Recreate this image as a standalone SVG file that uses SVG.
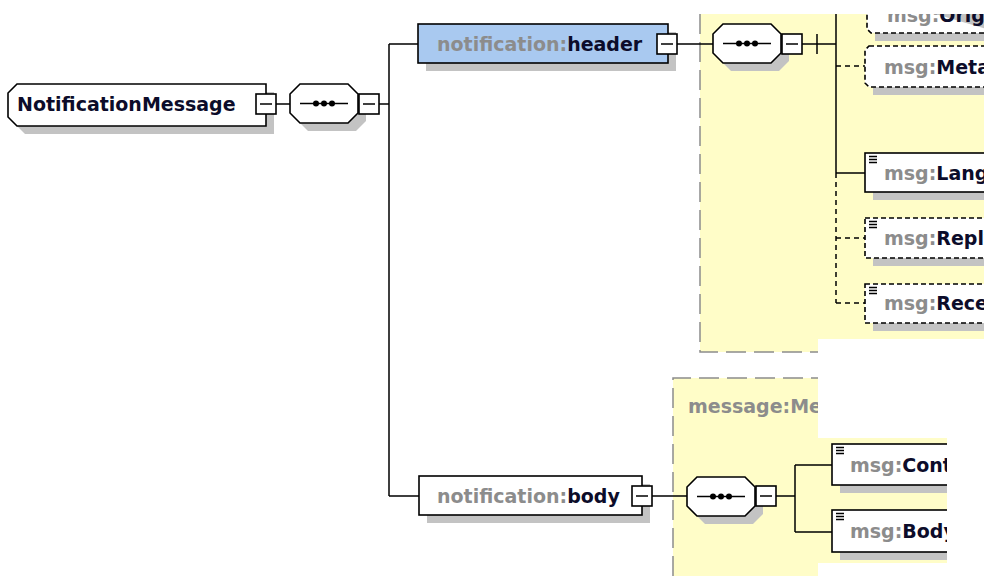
<svg xmlns="http://www.w3.org/2000/svg" xmlns:xlink="http://www.w3.org/1999/xlink" width="984" height="576" viewBox="0 0 984 576">
<defs>
<style>
.bg{fill:#fffdc8}
.frame{fill:none;stroke:#8c8c8c;stroke-width:1.5;stroke-dasharray:20 8}
.sh{fill:#c3c3c3}
.box{fill:#fff;stroke:#000;stroke-width:1.6}
.opt{fill:#fff;stroke:#000;stroke-width:1.6;stroke-dasharray:5 3}
.hdr{fill:#a9c9f0;stroke:#000;stroke-width:1.6}
.ln{fill:none;stroke:#000;stroke-width:1.5}
.dl{fill:none;stroke:#000;stroke-width:1.5;stroke-dasharray:5 4}
.t{font-family:"DejaVu Sans",Verdana,sans-serif;font-weight:bold;font-size:19px}
.p{fill:#8c8c8c}
.n{fill:#0c0c2a}
.ic{fill:none;stroke:#000;stroke-width:1.3}
</style>
<g id="mb"><rect x="0" y="0" width="20" height="20" class="box"/><path d="M4 10H16" class="ln"/></g>
<g id="seq"><polygon points="18,8 66,8 76,18 76,37 66,47 18,47 8,37 8,18" class="sh"/><polygon points="10,0 58,0 68,10 68,29 58,39 10,39 0,29 0,10" class="box"/><path d="M10 19.5H58" class="ln"/><circle cx="26" cy="19.5" r="3"/><circle cx="34" cy="19.5" r="3"/><circle cx="42" cy="19.5" r="3"/></g>
<g id="icon"><path d="M0 0.5H8M0 3.5H8M0 6.5H8" class="ic"/></g>
<clipPath id="cm"><rect x="673" y="378" width="145" height="60"/></clipPath>
</defs>

<!-- backgrounds -->
<polygon class="bg" points="700,14 984,14 984,339 818,339 818,352 700,352"/>
<path class="frame" d="M700 14V352H818"/>
<polygon class="bg" points="673,378 818,378 818,438 947,438 947,563 818,563 818,576 673,576"/>
<path class="frame" d="M673 576V378H818"/>
<text class="t p" x="688" y="413" clip-path="url(#cm)">message:MessageBody</text>

<g id="connectors">
<path class="ln" d="M275 104H290M379 104H389M389 44V496M389 44H418M389 496H419"/>
<path class="ln" d="M677 44H713M802 44H836M817 34V54M836 14V173M836 173H865"/>
<path class="dl" d="M836 66H865M836 173V303M836 238H865M836 303H865"/>
<path class="ln" d="M652 496H687M776 496H795M795 465V532M795 465H832M795 532H832"/>
</g>

<g id="NotificationMessage">
<polygon class="sh" points="25,92 274,92 274,134 25,134 16,125 16,101"/>
<polygon class="box" points="17,84 266,84 266,126 17,126 8,117 8,93"/>
<text class="t n" x="17" y="111">NotificationMessage</text>
<use xlink:href="#mb" x="256" y="94"/>
</g>
<g id="seq-root"><use xlink:href="#seq" x="290" y="84"/><use xlink:href="#mb" x="359" y="94"/></g>

<g id="header">
<rect class="sh" x="426" y="32" width="250" height="39"/>
<rect class="hdr" x="418" y="24" width="250" height="39"/>
<text class="t" x="437" y="50.5"><tspan class="p">notification:</tspan><tspan class="n">header</tspan></text>
<use xlink:href="#mb" x="657" y="34"/>
</g>
<g id="seq-header"><use xlink:href="#seq" x="713" y="24"/><use xlink:href="#mb" x="782" y="34"/></g>

<g id="Ord">
<rect class="sh" x="875" y="2" width="130" height="39"/>
<path class="opt" d="M1000 33H871L867 29V-6"/>
<text class="t" x="887" y="22"><tspan class="p">msg:</tspan><tspan class="n">Orig</tspan></text>
</g>
<g id="Meta">
<rect class="sh" x="873" y="54" width="130" height="41"/>
<polygon class="opt" points="869,46 1000,46 1000,87 869,87 865,83 865,50"/>
<text class="t" x="884" y="73.5"><tspan class="p">msg:</tspan><tspan class="n">Metadata</tspan></text>
</g>
<g id="Lang">
<rect class="sh" x="873" y="161" width="130" height="39"/>
<rect class="box" x="865" y="153" width="135" height="39"/>
<use xlink:href="#icon" x="869" y="156"/>
<text class="t" x="884" y="179.5"><tspan class="p">msg:</tspan><tspan class="n">Language</tspan></text>
</g>
<g id="Repl">
<rect class="sh" x="873" y="226" width="130" height="40"/>
<rect class="opt" x="865" y="218" width="135" height="40"/>
<use xlink:href="#icon" x="869" y="221"/>
<text class="t" x="884" y="244.5"><tspan class="p">msg:</tspan><tspan class="n">ReplyTo</tspan></text>
</g>
<g id="Rece">
<rect class="sh" x="873" y="292" width="130" height="39"/>
<rect class="opt" x="865" y="284" width="135" height="39"/>
<use xlink:href="#icon" x="869" y="287"/>
<text class="t" x="884" y="310"><tspan class="p">msg:</tspan><tspan class="n">Receipt</tspan></text>
</g>

<g id="body">
<rect class="sh" x="427" y="484" width="223" height="39"/>
<rect class="box" x="419" y="476" width="223" height="39"/>
<text class="t" x="437" y="502.5"><tspan class="p">notification:</tspan><tspan class="n">body</tspan></text>
<use xlink:href="#mb" x="632" y="486"/>
</g>
<g id="seq-body"><use xlink:href="#seq" x="687" y="477"/><use xlink:href="#mb" x="756" y="486"/></g>

<g id="Con">
<rect class="sh" x="840" y="452" width="130" height="41"/>
<rect class="box" x="832" y="444" width="135" height="41"/>
<use xlink:href="#icon" x="836" y="447"/>
<text class="t" x="850" y="471.5"><tspan class="p">msg:</tspan><tspan class="n">Content</tspan></text>
</g>
<g id="Bod">
<rect class="sh" x="840" y="518" width="130" height="42"/>
<rect class="box" x="832" y="510" width="135" height="42"/>
<use xlink:href="#icon" x="836" y="513"/>
<text class="t" x="850" y="537.5"><tspan class="p">msg:</tspan><tspan class="n">Body</tspan></text>
</g>

<!-- view edges -->
<rect x="690" y="0" width="294" height="14" fill="#fff"/>
<rect x="947" y="420" width="37" height="156" fill="#fff"/>
</svg>
